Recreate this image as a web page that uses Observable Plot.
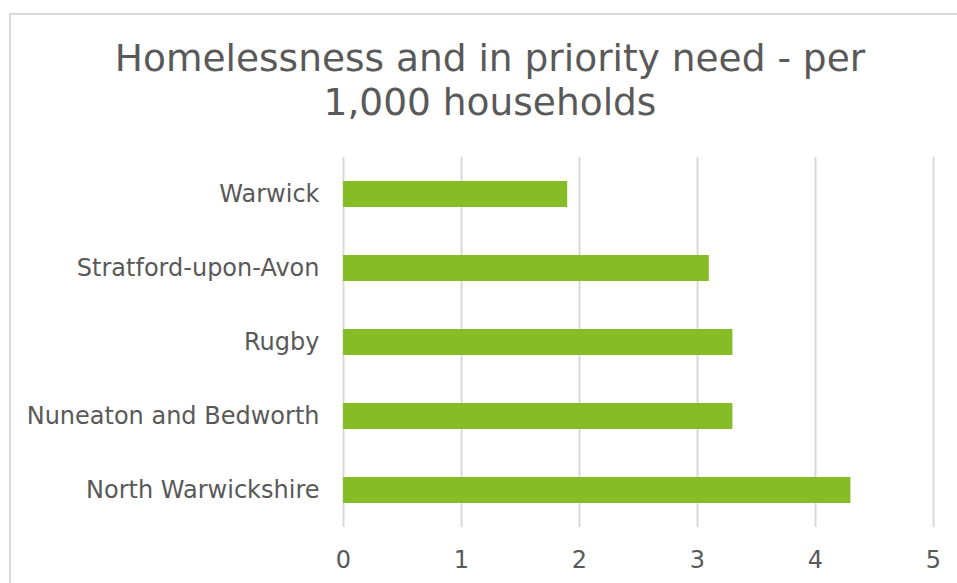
<!DOCTYPE html>
<html>
<head>
<meta charset="utf-8">
<script src="https://cdn.jsdelivr.net/npm/d3@7"></script>
<script src="https://cdn.jsdelivr.net/npm/@observablehq/plot@0.6"></script>
<style>
  html, body { margin: 0; padding: 0; background: #fff; }
  #wrap { position: relative; width: 957px; height: 583px; overflow: hidden; font-family: "DejaVu Sans", Verdana, sans-serif; }
  #frame { position: absolute; left: 9px; top: 13px; width: 2000px; height: 2000px; border-left: 2px solid #d9d9d9; border-top: 2px solid #d9d9d9; }
  #title { position: absolute; left: 10px; top: 36px; width: 960px; text-align: center; color: #595959; font-size: 37.5px; line-height: 44px; }
  #chart { position: absolute; left: 0; top: 140px; }
</style>
</head>
<body>
<div id="wrap">
  <div id="frame"></div>
  <div id="title">Homelessness and in priority need - per<br>1,000 households</div>
  <div id="chart"></div>
</div>
<script>
const districts = ["Warwick", "Stratford-upon-Avon", "Rugby", "Nuneaton and Bedworth", "North Warwickshire"];
const values = [1.9, 3.1, 3.3, 3.3, 4.3];
const xTicks = [0, 1, 2, 3, 4, 5];

const data = districts.map((d, i) => ({district: d, value: values[i]}));

const chart = Plot.plot({
  width: 957,
  height: 443,
  marginLeft: 343,
  marginRight: 24,
  marginTop: 17,
  marginBottom: 56,
  style: {fontFamily: "'DejaVu Sans', Verdana, sans-serif", fontSize: "24px", color: "#595959", background: "transparent"},
  x: {domain: [0, 5], ticks: xTicks, label: null},
  y: {domain: districts, paddingInner: 0.65, paddingOuter: 0.325, label: null},
  marks: [
    Plot.ruleX(xTicks, {stroke: "#d9d9d9", strokeWidth: 2}),
    Plot.barX(data, {x: "value", y: "district", fill: "#86bc25"}),
    Plot.axisX({ticks: xTicks, tickSize: 0, tickPadding: 23, tickFormat: d3.format("d"), fill: "#595959", fontSize: 24, label: null}),
    Plot.axisY({tickSize: 0, tickPadding: 24, fill: "#595959", fontSize: 24, label: null})
  ]
});
document.getElementById("chart").appendChild(chart);
</script>
</body>
</html>
